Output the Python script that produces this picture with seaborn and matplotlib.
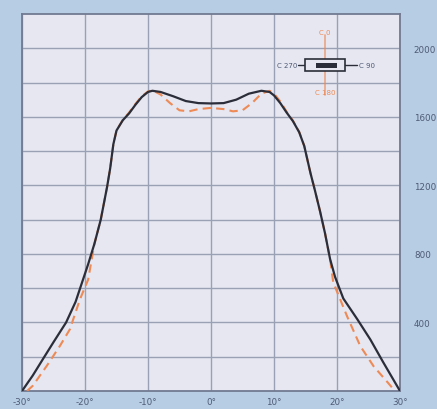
import numpy as np
import pandas as pd
import matplotlib
matplotlib.use("Agg")
import matplotlib.pyplot as plt
from matplotlib.patches import Rectangle
import seaborn as sns

# C90-C270 plane (black solid)
c90_angle = [-30, -28.3, -26.7, -25, -23, -21.5, -20.5, -19.5, -18.5, -17.5, -16.5, -16, -15.5, -15,
             -14, -13, -12, -11, -10, -9.3, -8, -6, -4, -2, 0, 2, 4, 6, 8, 9.3, 10, 11, 12, 13,
             14, 14.8, 15.3, 15.8, 16.5, 17.3, 18.1, 18.9, 19.7, 21, 23.2, 25.3, 27.3, 30]
c90_value = [0, 90, 185, 285, 400, 520, 630, 740, 860, 1000, 1190, 1300, 1440, 1520,
             1580, 1620, 1670, 1715, 1745, 1752, 1745, 1720, 1692, 1680, 1678, 1680, 1700, 1735, 1752, 1745, 1725, 1680, 1625, 1575,
             1510, 1430, 1350, 1270, 1170, 1050, 920, 770, 665, 540, 420, 300, 170, 0]

# C0-C180 plane (orange dashed)
c0_angle = [-29.2, -28.3, -26.1, -24, -22.4, -20.8, -19.5, -18.5, -17.5, -16.5, -16, -15.5, -15,
            -14, -13, -12, -11, -10, -9.3, -8, -6.5, -5, -3.5, -2, 0, 2, 3.5, 5, 6.5, 8, 9.3, 10, 11,
            12, 13, 14, 14.8, 15.3, 15.8, 16.5, 17.3, 18.1, 18.9, 19.4, 21.6, 23.7, 25.8, 28, 29.2]
c0_value = [0, 30, 145, 262, 360, 535, 650, 860, 1000, 1190, 1300, 1440, 1520,
            1582, 1625, 1675, 1720, 1748, 1755, 1730, 1680, 1638, 1632, 1645, 1652, 1645, 1632, 1638, 1680, 1735, 1752, 1735, 1690,
            1630, 1578, 1512, 1430, 1350, 1270, 1170, 1050, 920, 770, 634, 436, 262, 145, 52, 0]

x_ticks = [-30, -20, -10, 0, 10, 20, 30]
x_labels = ["-30°", "-20°", "-10°", "0°", "10°", "20°", "30°"]
y_ticks = [400, 800, 1200, 1600, 2000]
y_labels = ["400", "800", "1200", "1600", "2000"]

fig_bg = "#b6cde4"
ax_bg = "#e6e7f1"
grid_c = "#9ba1b4"
black_c = "#2b2d38"
orange_c = "#ee8a55"
text_c = "#4f5a74"

sns.set_theme(style="white")
plt.rcParams['font.family'] = ['DejaVu Sans']

fig = plt.figure(figsize=(4.37, 4.10), dpi=100, facecolor=fig_bg)
ax = fig.add_axes([22/437, 18/410, 378/437, 377/410])
ax.set_facecolor(ax_bg)

df90 = pd.DataFrame({"angle": c90_angle, "value": c90_value})
df0 = pd.DataFrame({"angle": c0_angle, "value": c0_value})

sns.lineplot(data=df0, x="angle", y="value", ax=ax, color=orange_c, lw=1.5,
             linestyle=(0, (4, 2.5)), sort=False, zorder=3)
sns.lineplot(data=df90, x="angle", y="value", ax=ax, color=black_c, lw=1.6, sort=False, zorder=4,
             solid_joinstyle="round")

ax.set_xlim(-30, 30)
ax.set_ylim(0, 2200)
ax.set_xticks(x_ticks)
ax.set_xticklabels(x_labels)
ax.set_yticks(np.arange(200, 2200, 200), minor=True)
ax.yaxis.tick_right()
ax.set_yticks(y_ticks)
ax.set_yticklabels(y_labels)
ax.grid(True, which="major", color=grid_c, lw=1.0)
ax.grid(True, which="minor", axis="y", color=grid_c, lw=1.0)
ax.tick_params(axis="both", which="both", length=0, labelsize=6.3, colors=text_c)
ax.tick_params(axis="y", pad=10)
ax.tick_params(axis="x", pad=4)
ax.set_xlabel("")
ax.set_ylabel("")
for s in ax.spines.values():
    s.set_color("#717a92")
    s.set_linewidth(1.3)

# inset legend symbol (C-plane indicator)
cx, cy = 325, 66  # pixel center
def px(xp, yp):
    return (xp / 437, 1 - yp / 410)

fig.lines.append(plt.Line2D([px(cx, 36)[0], px(cx, 96)[0]], [px(cx, 36)[1], px(cx, 96)[1]],
                            transform=fig.transFigure, color=orange_c, lw=1.2, alpha=0.7, zorder=10))
fig.lines.append(plt.Line2D([px(298, cy)[0], px(357, cy)[0]], [px(298, cy)[1], px(357, cy)[1]],
                            transform=fig.transFigure, color=black_c, lw=1.0, zorder=10))
fig.patches.append(Rectangle(px(305, 72), 40/437, 12/410, transform=fig.transFigure,
                             facecolor=ax_bg, edgecolor=black_c, lw=1.2, zorder=11))
fig.patches.append(Rectangle(px(316, 68.5), 21/437, 5/410, transform=fig.transFigure,
                             facecolor=black_c, edgecolor="none", zorder=12))
fig.text(*px(297, cy), "C 270", ha="right", va="center", fontsize=5, color=text_c, zorder=13)
fig.text(*px(359, cy), "C 90", ha="left", va="center", fontsize=5, color=text_c, zorder=13)
fig.text(*px(cx, 33), "C 0", ha="center", va="center", fontsize=5, color=orange_c, zorder=13)
fig.text(*px(cx, 93), "C 180", ha="center", va="center", fontsize=5, color=orange_c, zorder=13)

fig.savefig("out.png", dpi=100, facecolor=fig_bg)
